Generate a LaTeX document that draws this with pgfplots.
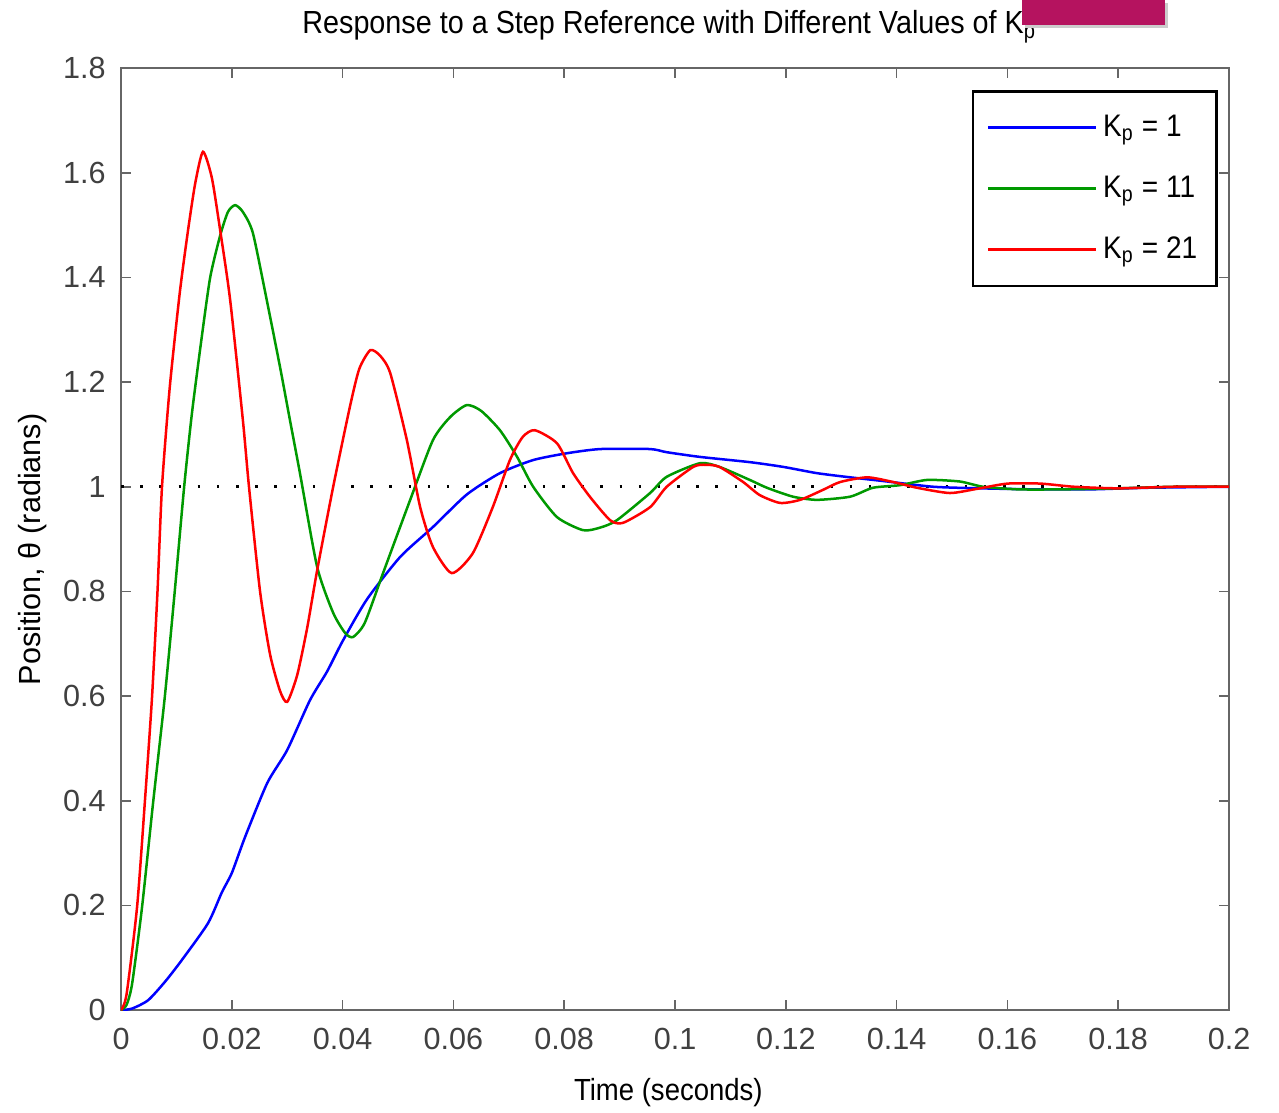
\documentclass[border=0pt]{standalone}
\usepackage{fontspec}
\setmainfont{Liberation Sans}
\newfontfamily\narrowfont{Liberation Sans}[FakeStretch=0.9]
\usepackage{pgfplots}
\pgfplotsset{compat=1.18}

\definecolor{mblue}{rgb}{0,0,1}
\definecolor{mgreen}{rgb}{0,0.6,0}
\definecolor{mred}{rgb}{1,0,0}
\definecolor{slidepink}{HTML}{B5135F}

\begin{document}
\begin{tikzpicture}
\begin{axis}[
    scale only axis, width=398.7pt, height=339pt,
    xmin=0, xmax=0.2, ymin=0, ymax=1.8,
    xtick={0,0.02,0.04,0.06,0.08,0.1,0.12,0.14,0.16,0.18,0.2},
    xticklabels={0,0.02,0.04,0.06,0.08,0.1,0.12,0.14,0.16,0.18,0.2},
    ytick={0,0.2,0.4,0.6,0.8,1,1.2,1.4,1.6,1.8},
    yticklabels={0,0.2,0.4,0.6,0.8,1,1.2,1.4,1.6,1.8},
    scaled ticks=false,
    /pgf/number format/assume math mode=true,
    tick align=inside, major tick length=3.6pt,
    tick style={black!60, line width=0.6pt},
    axis line style={black!60, line width=0.8pt},
    ticklabel style={font=\fontsize{11}{13}\selectfont, text=black!75},
    xticklabel style={yshift=-3pt},
    yticklabel style={xshift=-2pt},
    every axis title shift=0pt,
    title={\narrowfont Response to a Step Reference with Different Values of K\textsubscript{p}},
    title style={at={(axis description cs:0.495,1.037)}, anchor=base, font=\fontsize{11.5}{13}\selectfont},
    xlabel={\narrowfont Time (seconds)},
    xlabel style={at={(axis description cs:0.494,-0.087)}, anchor=center, font=\fontsize{11}{13}\selectfont},
    ylabel={Position, θ (radians)},
    ylabel style={at={(axis description cs:-0.0794,0.489)}, anchor=center, font=\fontsize{11}{13}\selectfont},
    legend style={at={(rel axis cs:0.990,0.9766)}, anchor=north east, draw=black, line width=0.9pt,
        font=\fontsize{11.2}{13}\selectfont\narrowfont, inner xsep=5pt, inner ysep=6.5pt, row sep=8.7pt},
    legend cell align=left,
    legend image code/.code={\draw[#1, line width=0.9pt] (0pt,0pt) -- (39pt,0pt);},
]

% reference level
\addplot[black, line width=0.9pt, dash pattern=on 0.9pt off 6pt, forget plot]
    coordinates {(0,1) (0.2,1)};

% Kp = 1
\addplot[mblue, line width=0.9pt, smooth, tension=0.4] coordinates {
    (0,0) (0.002,0.003) (0.0049,0.019) (0.008,0.055) (0.011,0.096)
    (0.0157,0.166) (0.0182,0.225) (0.02,0.262) (0.0224,0.331) (0.0264,0.434)
    (0.03,0.497) (0.0341,0.592) (0.0372,0.647) (0.040,0.705) (0.0444,0.785)
    (0.0504,0.866) (0.0563,0.923) (0.0624,0.985) (0.0684,1.026) (0.0744,1.051)
    (0.0805,1.064) (0.0865,1.072) (0.0955,1.072) (0.0985,1.066) (0.1045,1.057)
    (0.1135,1.047) (0.1195,1.038) (0.1256,1.026) (0.1316,1.018) (0.1375,1.011)
    (0.1466,1.0) (0.155,0.997) (0.165,0.995) (0.175,0.995) (0.185,0.998) (0.2,1.0)
};
\addlegendentry{K\textsubscript{p} = 1}

% Kp = 11
\addplot[mgreen, line width=0.9pt, smooth, tension=0.4] coordinates {
    (0,0) (0.001,0.01) (0.002,0.05) (0.0038,0.197) (0.0058,0.397)
    (0.0079,0.598) (0.0097,0.80) (0.0114,1.0) (0.0128,1.14) (0.0145,1.28)
    (0.0161,1.40) (0.0179,1.48) (0.0193,1.525) (0.0206,1.538) (0.022,1.525)
    (0.0238,1.485) (0.0263,1.357) (0.0287,1.229) (0.0305,1.127) (0.0323,1.026)
    (0.0354,0.847) (0.0383,0.759) (0.0405,0.72) (0.0419,0.713) (0.044,0.74)
    (0.0473,0.835) (0.0522,0.975) (0.0563,1.089) (0.0594,1.133) (0.0624,1.156)
    (0.065,1.145) (0.0684,1.108) (0.0715,1.057) (0.0744,1.0) (0.0787,0.942)
    (0.0834,0.917) (0.0865,0.922) (0.0895,0.936) (0.0955,0.988) (0.0985,1.019)
    (0.1045,1.045) (0.108,1.038) (0.1135,1.013) (0.1166,0.998) (0.1213,0.981)
    (0.1256,0.975) (0.1316,0.981) (0.1357,0.998) (0.1406,1.003) (0.1455,1.013)
    (0.1514,1.01) (0.1556,1.0) (0.162,0.995) (0.17,0.995) (0.18,0.997)
    (0.19,1.0) (0.2,1.0)
};
\addlegendentry{K\textsubscript{p} = 11}

% Kp = 21
\addplot[mred, line width=0.9pt, smooth, tension=0.4] coordinates {
    (0,0) (0.001,0.03) (0.0029,0.197) (0.0043,0.397) (0.0056,0.598)
    (0.0066,0.803) (0.0074,1.0) (0.0088,1.19) (0.0106,1.37) (0.0121,1.49)
    (0.0134,1.58) (0.0148,1.64) (0.0164,1.59) (0.0179,1.49) (0.0197,1.357)
    (0.022,1.127) (0.0231,1.0) (0.0251,0.80) (0.0269,0.68) (0.0287,0.61)
    (0.030,0.589) (0.0318,0.64) (0.0336,0.73) (0.0354,0.84) (0.0383,1.0)
    (0.0413,1.152) (0.043,1.225) (0.045,1.261) (0.0468,1.25) (0.0486,1.217)
    (0.0516,1.089) (0.054,0.961) (0.0563,0.885) (0.0597,0.835) (0.0635,0.873)
    (0.0671,0.961) (0.0702,1.051) (0.0725,1.095) (0.0747,1.108) (0.0787,1.083)
    (0.0816,1.026) (0.0847,0.980) (0.0883,0.936) (0.0906,0.931) (0.0955,0.961)
    (0.0985,1.0) (0.1033,1.038) (0.1055,1.042) (0.108,1.038) (0.1123,1.009)
    (0.1153,0.984) (0.119,0.969) (0.1226,0.975) (0.1267,0.994) (0.1298,1.009)
    (0.1347,1.018) (0.1394,1.009) (0.1437,0.998) (0.1496,0.988) (0.1545,0.996)
    (0.16,1.006) (0.166,1.006) (0.172,1.0) (0.18,0.997) (0.19,1.0) (0.2,1.0)
};
\addlegendentry{K\textsubscript{p} = 21}

\coordinate (bl) at (axis description cs:-0.1092,-0.1083);
\coordinate (tr) at (axis description cs:1.0451,1.0722);
\coordinate (m1) at (axis description cs:0.813,1.0456);
\coordinate (m2) at (axis description cs:0.942,1.0722);
\end{axis}
% slide overlay covering part of the title
\fill[black!20] ([shift={(1pt,-1pt)}]m1) rectangle ([shift={(1pt,-1pt)}]m2);
\fill[slidepink] (m1) rectangle (m2);
\pgfresetboundingbox
\useasboundingbox (bl) rectangle (tr);
\end{tikzpicture}
\end{document}
